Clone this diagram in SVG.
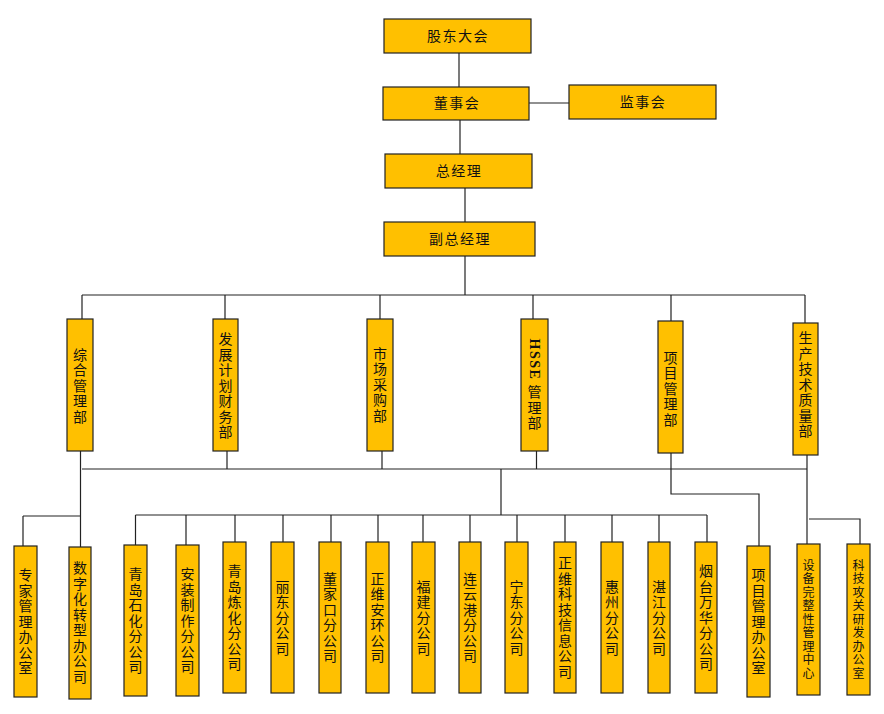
<svg xmlns="http://www.w3.org/2000/svg" width="884" height="714" viewBox="0 0 884 714">
<style>
.box{fill:#FFC000;stroke:#222;stroke-width:1.2}
.h{font-family:"Noto Sans CJK SC","Noto Sans CJK TC",sans-serif;font-size:14px;fill:#111;text-anchor:middle;letter-spacing:1.5px}
.v{font-family:"Noto Sans CJK SC","Noto Sans CJK TC",sans-serif;font-size:14px;fill:#111;text-anchor:middle;writing-mode:vertical-rl;letter-spacing:1.5px}
.vs{font-size:12px}
.lat{font-family:"Liberation Serif",serif;font-weight:bold}
#connectors path{fill:none;stroke:#222;stroke-width:1.2}
</style>
<rect width="884" height="714" fill="#fff"/>
<g id="connectors">
<path d="M459,53V87"/>
<path d="M529,103H569"/>
<path d="M460,120V154"/>
<path d="M465,188V222"/>
<path d="M465,256V295"/>
<path d="M82,295H805"/>
<path d="M82,295V319M225,295V319M380,295V319M533,295V319M671,295V321M805,295V323"/>
<path d="M80.5,451V547"/>
<path d="M227,451V469M382,451V469M536.5,451V469"/>
<path d="M82,469H807"/>
<path d="M671,453V494H759V546"/>
<path d="M807,455V544"/>
<path d="M809,519H860V544"/>
<path d="M23,516H80M23,516V546"/>
<path d="M501,469V515"/>
<path d="M135.5,515H707"/>
<path d="M135.5,515V545M186,515V545M235,515V542M283,515V542M331,515V542M378,515V542M423,515V542M470,515V542M517,515V542M565,515V542M612,515V542M659,515V542M707,515V542"/>
</g>
<g id="n-gudong"><rect class="box" x="384" y="19" width="147" height="34"/><text class="h" x="458" y="41">股东大会</text></g>
<g id="n-dongshi"><rect class="box" x="383" y="87" width="146" height="33"/><text class="h" x="457" y="108">董事会</text></g>
<g id="n-jianshi"><rect class="box" x="569" y="85" width="147" height="34"/><text class="h" x="643" y="107">监事会</text></g>
<g id="n-zongjingli"><rect class="box" x="385" y="154" width="147" height="34"/><text class="h" x="459" y="176">总经理</text></g>
<g id="n-fuzong"><rect class="box" x="384" y="222" width="151" height="34"/><text class="h" x="460" y="244">副总经理</text></g>

<g id="d-zonghe"><rect class="box" x="67" y="319" width="26" height="132"/><text class="v" x="80" y="386">综合管理部</text></g>
<g id="d-fazhan"><rect class="box" x="213" y="319" width="25" height="132"/><text class="v" x="225.5" y="386">发展计划财务部</text></g>
<g id="d-shichang"><rect class="box" x="367" y="319" width="26" height="132"/><text class="v" x="380" y="385">市场采购部</text></g>
<g id="d-hsse"><rect class="box" x="521" y="319" width="27" height="132"/><text class="v" x="534.5" y="385"><tspan class="lat">HSSE</tspan> 管理部</text></g>
<g id="d-xiangmu"><rect class="box" x="658" y="321" width="25" height="132"/><text class="v" x="670.5" y="389">项目管理部</text></g>
<g id="d-shengchan"><rect class="box" x="793" y="323" width="25" height="132"/><text class="v" x="805.5" y="385">生产技术质量部</text></g>

<g id="b1"><rect class="box" x="14" y="546" width="23" height="151"/><text class="v" x="25.5" y="622">专家管理办公室</text></g>
<g id="b2"><rect class="box" x="69" y="547" width="22" height="152"/><text class="v" x="80" y="623">数字化转型办公司</text></g>
<g id="b3"><rect class="box" x="124" y="545" width="23" height="151"/><text class="v" x="135.5" y="621">青岛石化分公司</text></g>
<g id="b4"><rect class="box" x="176" y="545" width="23" height="151"/><text class="v" x="187.5" y="621">安装制作分公司</text></g>
<g id="b5"><rect class="box" x="223" y="542" width="23" height="151"/><text class="v" x="234.5" y="618">青岛炼化分公司</text></g>
<g id="b6"><rect class="box" x="271" y="542" width="23" height="151"/><text class="v" x="282.5" y="618">丽东分公司</text></g>
<g id="b7"><rect class="box" x="319" y="542" width="22" height="151"/><text class="v" x="330" y="618">董家口分公司</text></g>
<g id="b8"><rect class="box" x="366" y="542" width="23" height="151"/><text class="v" x="377.5" y="618">正维安环公司</text></g>
<g id="b9"><rect class="box" x="412" y="542" width="23" height="151"/><text class="v" x="423.5" y="618">福建分公司</text></g>
<g id="b10"><rect class="box" x="459" y="542" width="22" height="151"/><text class="v" x="470" y="618">连云港分公司</text></g>
<g id="b11"><rect class="box" x="505" y="542" width="23" height="151"/><text class="v" x="516.5" y="618">宁东分公司</text></g>
<g id="b12"><rect class="box" x="554" y="542" width="22" height="151"/><text class="v" x="565" y="618">正维科技信息公司</text></g>
<g id="b13"><rect class="box" x="601" y="542" width="22" height="151"/><text class="v" x="612" y="618">惠州分公司</text></g>
<g id="b14"><rect class="box" x="648" y="542" width="22" height="151"/><text class="v" x="659" y="618">湛江分公司</text></g>
<g id="b15"><rect class="box" x="695" y="542" width="22" height="151"/><text class="v" x="706" y="618">烟台万华分公司</text></g>
<g id="b16"><rect class="box" x="747" y="546" width="23" height="151"/><text class="v" x="758.5" y="622">项目管理办公室</text></g>
<g id="b17"><rect class="box" x="797" y="544" width="23" height="151"/><text class="v vs" x="808.5" y="620">设备完整性管理中心</text></g>
<g id="b18"><rect class="box" x="847" y="544" width="23" height="151"/><text class="v vs" x="858.5" y="620">科技攻关研发办公室</text></g>
</svg>
